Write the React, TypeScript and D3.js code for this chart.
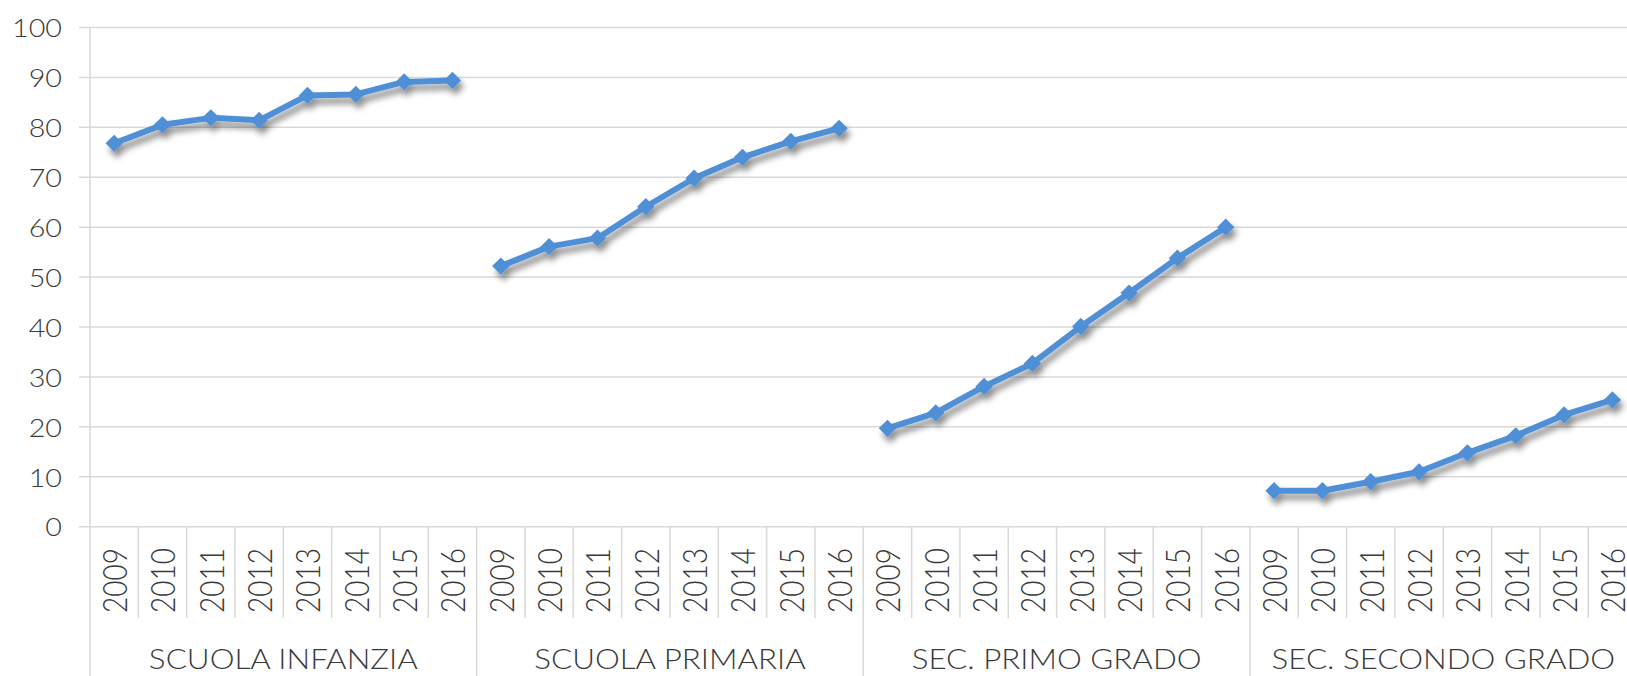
import { useEffect, useRef } from "react"
import * as d3 from "d3"

// Data
const groups = ["SCUOLA INFANZIA", "SCUOLA PRIMARIA", "SEC. PRIMO GRADO", "SEC. SECONDO GRADO"]
const years = ["2009", "2010", "2011", "2012", "2013", "2014", "2015", "2016"]
const infanzia = [76.8, 80.5, 81.9, 81.4, 86.4, 86.6, 89.1, 89.4]
const primaria = [52.2, 56.1, 57.8, 64.1, 69.8, 74.0, 77.2, 79.8]
const primoGrado = [19.7, 22.8, 28.1, 32.7, 40.1, 46.8, 53.8, 60.0]
const secondoGrado = [7.2, 7.2, 9.0, 11.0, 14.8, 18.2, 22.4, 25.4]
const yTicks = [0, 10, 20, 30, 40, 50, 60, 70, 80, 90, 100]

const seriesByGroup = [infanzia, primaria, primoGrado, secondoGrado]

const App = () => {
  const svgRef = useRef<SVGSVGElement>(null)

  useEffect(() => {
    if (!svgRef.current) return
    const svg = d3.select(svgRef.current)
    svg.selectAll("*").remove()

    const width = 1627
    const height = 676
    const left = 90
    const band = 48.33
    const top = 27.5
    const bottom = 526.7
    const font = "'Century Gothic', Lato, 'Liberation Sans', sans-serif"
    const textColor = "#3a3a3a"
    const gridColor = "#d9d9d9"
    const lineColor = "#4f8fd6"

    const keys = groups.flatMap((g) => years.map((y) => `${g}|${y}`))

    const x = d3
      .scaleBand()
      .domain(keys)
      .range([left, left + band * keys.length])
      .padding(0)

    const y = d3.scaleLinear().domain([0, 100]).range([bottom, top])

    // soft drop shadow under the lines
    const defs = svg.append("defs")
    const filter = defs
      .append("filter")
      .attr("id", "shadow")
      .attr("x", "-20%")
      .attr("y", "-20%")
      .attr("width", "140%")
      .attr("height", "140%")
    filter
      .append("feDropShadow")
      .attr("dx", 3)
      .attr("dy", 6)
      .attr("stdDeviation", 3)
      .attr("flood-color", "#000")
      .attr("flood-opacity", 0.45)

    // horizontal gridlines
    svg
      .append("g")
      .selectAll("line")
      .data(yTicks)
      .enter()
      .append("line")
      .attr("x1", left - 11)
      .attr("x2", width)
      .attr("y1", (d) => y(d))
      .attr("y2", (d) => y(d))
      .attr("stroke", gridColor)
      .attr("stroke-width", 1.5)

    // y axis line
    svg
      .append("line")
      .attr("x1", left)
      .attr("x2", left)
      .attr("y1", y(100))
      .attr("y2", height)
      .attr("stroke", gridColor)
      .attr("stroke-width", 1.5)

    // y labels
    svg
      .append("g")
      .selectAll("text")
      .data(yTicks)
      .enter()
      .append("text")
      .attr("transform", (d) => `translate(62,${y(d)}) scale(1.15,1)`)
      .attr("text-anchor", "end")
      .attr("dominant-baseline", "central")
      .attr("font-family", font)
      .attr("font-weight", 300)
      .attr("font-size", 25)
      .attr("fill", textColor)
      .text((d) => d)

    // separators between years (short) and groups (long)
    keys.forEach((k, i) => {
      const xs = (x(k) || 0) + band
      const isGroupEnd = i % years.length === years.length - 1
      svg
        .append("line")
        .attr("x1", xs)
        .attr("x2", xs)
        .attr("y1", bottom)
        .attr("y2", isGroupEnd ? height : 618)
        .attr("stroke", gridColor)
        .attr("stroke-width", 1.5)
    })

    // year labels
    svg
      .append("g")
      .selectAll("text")
      .data(keys)
      .enter()
      .append("text")
      .attr("transform", (d) => `translate(${(x(d) || 0) + x.bandwidth() / 2},613) rotate(-90) scale(1,1.15)`)
      .attr("text-anchor", "start")
      .attr("dominant-baseline", "central")
      .attr("font-family", font)
      .attr("font-weight", 300)
      .attr("font-size", 29)
      .attr("textLength", 65)
      .attr("lengthAdjust", "spacingAndGlyphs")
      .attr("fill", textColor)
      .text((d) => d.split("|")[1])

    // group labels
    groups.forEach((g) => {
      const x0 = x(`${g}|${years[0]}`) || 0
      const x1 = (x(`${g}|${years[years.length - 1]}`) || 0) + band
      svg
        .append("text")
        .attr("transform", `translate(${(x0 + x1) / 2},669) scale(1.12,1)`)
        .attr("text-anchor", "middle")
        .attr("font-family", font)
        .attr("font-weight", 300)
        .attr("font-size", 28)
        .attr("fill", textColor)
        .text(g)
    })

    // lines + diamond markers
    const line = d3.line<number>().y((d) => y(d))

    groups.forEach((g, gi) => {
      const values = seriesByGroup[gi]
      const cx = (i: number) => (x(`${g}|${years[i]}`) || 0) + x.bandwidth() / 2
      const layer = svg.append("g").attr("filter", "url(#shadow)")

      layer
        .append("path")
        .datum(values)
        .attr("fill", "none")
        .attr("stroke", lineColor)
        .attr("stroke-width", 6)
        .attr("stroke-linejoin", "round")
        .attr("d", line.x((_, i) => cx(i)))

      layer
        .selectAll("path.marker")
        .data(values)
        .enter()
        .append("path")
        .attr("class", "marker")
        .attr("d", d3.symbol().type(d3.symbolSquare).size(150)())
        .attr("transform", (d, i) => `translate(${cx(i)},${y(d)}) rotate(45)`)
        .attr("fill", lineColor)
    })
  }, [])

  return (
    <div style={{ position: "absolute", left: 0, top: 0, width: 1627, height: 676, overflow: "hidden", background: "#fff" }}>
      <svg ref={svgRef} width={1627} height={676} style={{ display: "block" }}></svg>
    </div>
  )
}

export default App
